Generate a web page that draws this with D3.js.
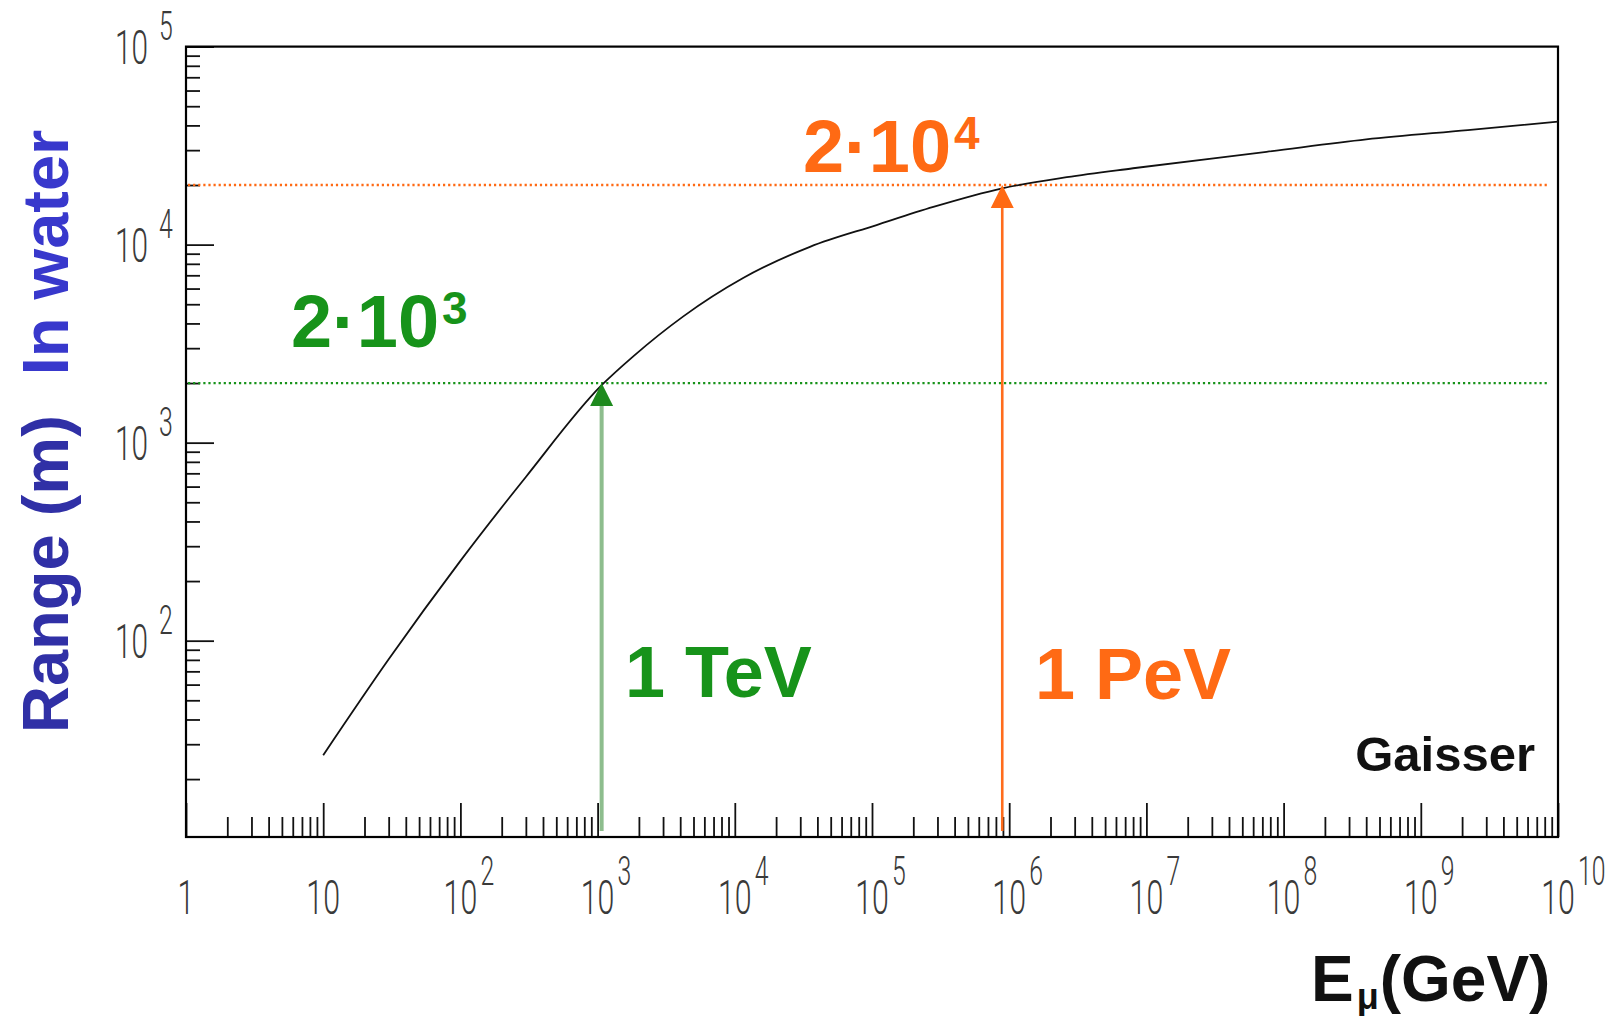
<!DOCTYPE html>
<html>
<head>
<meta charset="utf-8">
<script src="https://cdn.jsdelivr.net/npm/d3@7"></script>
<style>
    body { margin: 0; background: #fff; }
    svg { display: block; }
    .num { font-family: Roboto, "DejaVu Sans", sans-serif; font-weight: 300; fill: #3a3a3a; }
    .bold { font-family: "Liberation Sans", Arial, sans-serif; font-weight: 700; }
</style>
</head>
<body>
<div id="chart"></div>
<script>
    // Muon range in water (m) against muon energy (GeV).
const energyGeV = [10, 30, 100, 300, 1070, 1810, 4190, 11500, 35300, 1.08e5, 2.8e5, 8.9e5, 2.63e6, 8e6, 7.5e7, 4e8, 2.2e9, 1e10];
const rangeM = [26.4, 80.5, 253, 671, 1950, 2720, 4330, 6780, 9750, 12560, 15500, 19240, 21900, 24300, 29400, 34000, 37900, 41800];

    // Decade exponents used for the tick labels.
const xDecades = [0, 1, 2, 3, 4, 5, 6, 7, 8, 9, 10];
const yDecades = [2, 3, 4, 5];

    // The two marked energies and the range reached at each.
const markerNames = ["1 TeV", "1 PeV"];
const markerEnergy = [1070, 8.9e5];
const markerRange = [2000, 20000];
const markerRangeText = ["2·10", "2·10"];
const markerRangeExp = ["3", "4"];

function drawChart() {
    const width = 1619;
    const height = 1016;

    const svg = d3.select("#chart")
        .append("svg")
        .attr("width", width)
        .attr("height", height);

        // Log scales for both axes.
    const x = d3.scaleLog().domain([1, 1e10]).range([186, 1558]);
    const y = d3.scaleLog().domain([10.2, 1e5]).range([837, 46.6]);

    const [x0, x1] = x.range();
    const [yb, yt] = y.range();

        // Minor tick values 2..9 inside each decade.
    const minorX = [];
    for (let d = 0; d < 10; d++) for (let k = 2; k <= 9; k++) minorX.push(k * 10 ** d);
    const minorY = [];
    for (let d = 1; d < 5; d++) for (let k = 2; k <= 9; k++) if (k * 10 ** d > 10.2) minorY.push(k * 10 ** d);

    function tickAxis(axis, transform) {
        const g = svg.append("g")
            .attr("transform", transform)
            .call(axis);
        g.select(".domain").remove();
        g.selectAll("line").attr("stroke", "#111").attr("stroke-width", 1.8);
        g.selectAll("text").remove();
    }

        // x ticks stand up from the bottom edge.
    tickAxis(d3.axisTop(x).tickValues(minorX).tickSize(20).tickFormat(""), `translate(0, ${yb})`);
    tickAxis(d3.axisTop(x).tickValues(xDecades.map(e => 10 ** e)).tickSize(34).tickFormat(""), `translate(0, ${yb})`);

        // y ticks point right from the left edge.
    tickAxis(d3.axisRight(y).tickValues(minorY).tickSize(14).tickFormat(""), `translate(${x0}, 0)`);
    tickAxis(d3.axisRight(y).tickValues(yDecades.map(e => 10 ** e)).tickSize(28).tickFormat(""), `translate(${x0}, 0)`);

        // Plot frame.
    svg.append("rect")
        .attr("x", x0)
        .attr("y", yt)
        .attr("width", x1 - x0)
        .attr("height", yb - yt)
        .attr("fill", "none")
        .attr("stroke", "#000")
        .attr("stroke-width", 2.2);

        // x tick labels: 1, 10, then 10 with a raised exponent.
    const xl = svg.selectAll(".xlab")
        .data(xDecades)
        .join("g")
        .attr("class", "xlab")
        .attr("transform", d => `translate(${x(10 ** d)}, 914)`);

    xl.append("text")
        .attr("class", "num")
        .attr("font-size", 49)
        .attr("text-anchor", "middle")
        .attr("transform", "scale(0.62,1)")
        .text(d => d === 0 ? "1" : "10");

    xl.filter(d => d > 1)
        .append("text")
        .attr("class", "num")
        .attr("font-size", 40)
        .attr("transform", "translate(20,-29) scale(0.62,1)")
        .text(d => d);

        // y tick labels.
    const yl = svg.selectAll(".ylab")
        .data(yDecades)
        .join("g")
        .attr("class", "ylab")
        .attr("transform", d => `translate(148, ${y(10 ** d) + 17})`);

    yl.append("text")
        .attr("class", "num")
        .attr("font-size", 48)
        .attr("text-anchor", "end")
        .attr("transform", "scale(0.62,1)")
        .text("10");

    yl.append("text")
        .attr("class", "num")
        .attr("font-size", 40)
        .attr("transform", "translate(11,-24) scale(0.62,1)")
        .text(d => d);

        // Dotted reference lines at the two ranges.
    const colors = ["#17931a", "#ff6a14"];

    svg.selectAll(".ref")
        .data(markerRange)
        .join("line")
        .attr("class", "ref")
        .attr("x1", x0 + 2)
        .attr("x2", x1 - 10)
        .attr("y1", d => y(d))
        .attr("y2", d => y(d))
        .attr("stroke", (d, i) => colors[i])
        .attr("stroke-width", 2.3)
        .attr("stroke-dasharray", "2.2,2.9");

        // Range curve.
    const line = d3.line()
        .x(d => x(d[0]))
        .y(d => y(d[1]))
        .curve(d3.curveMonotoneX);

    svg.append("path")
        .attr("d", line(energyGeV.map((e, i) => [e, rangeM[i]])))
        .attr("fill", "none")
        .attr("stroke", "#111")
        .attr("stroke-width", 1.8);

        // Arrows from the energy axis up to the curve.
    const stemColors = ["#8dbd8d", "#ff6c1c"];
    const stemWidths = [4, 2.6];
    const headColors = ["#1e8a1e", "#ff6a14"];

    svg.selectAll(".stem")
        .data(markerEnergy)
        .join("line")
        .attr("class", "stem")
        .attr("x1", d => x(d))
        .attr("x2", d => x(d))
        .attr("y1", yb - 6)
        .attr("y2", (d, i) => y(markerRange[i]) + 20)
        .attr("stroke", (d, i) => stemColors[i])
        .attr("stroke-width", (d, i) => stemWidths[i]);

    svg.selectAll(".head")
        .data(markerEnergy)
        .join("path")
        .attr("class", "head")
        .attr("d", (d, i) => {
            const tx = x(d), ty = y(markerRange[i]);
            return `M${tx},${ty} L${tx - 11.5},${ty + 23} L${tx + 11.5},${ty + 23} Z`;
        })
        .attr("fill", (d, i) => headColors[i]);

        // Range labels near the dotted lines.
    const rangeLabelAt = [[5.82, 3040], [31400, 23300]];
    svg.selectAll(".rlab")
        .data(markerRangeText)
        .join("text")
        .attr("class", "rlab bold")
        .attr("x", (d, i) => x(rangeLabelAt[i][0]))
        .attr("y", (d, i) => y(rangeLabelAt[i][1]))
        .attr("font-size", 74)
        .attr("fill", (d, i) => colors[i])
        .each(function(d, i) {
            const t = d3.select(this);
            t.append("tspan").text(d);
            t.append("tspan")
                .attr("dx", 3)
                .attr("dy", -23)
                .attr("font-size", 46)
                .text(markerRangeExp[i]);
        });

        // Energy labels beside the arrows.
    const energyLabelAt = [[1585, 52], [1.54e6, 50.7]];
    svg.selectAll(".elab")
        .data(markerNames)
        .join("text")
        .attr("class", "elab bold")
        .attr("x", (d, i) => x(energyLabelAt[i][0]))
        .attr("y", (d, i) => y(energyLabelAt[i][1]))
        .attr("font-size", 72)
        .attr("fill", (d, i) => colors[i])
        .text(d => d);

        // Source tag.
    svg.append("text")
        .attr("class", "bold")
        .attr("x", x(6.8e9))
        .attr("y", y(21.9))
        .attr("text-anchor", "end")
        .attr("font-size", 49)
        .attr("fill", "#111")
        .text("Gaisser");

        // x axis title with the mu subscript.
    const xt = svg.append("text")
        .attr("class", "bold")
        .attr("x", 1311)
        .attr("y", 1001)
        .attr("font-size", 64)
        .attr("fill", "#111");
    xt.append("tspan").text("E");
    xt.append("tspan").attr("font-size", 36).attr("dy", 8).attr("dx", 3).text("μ");
    xt.append("tspan").attr("dy", -8).attr("dx", 1).text("(GeV)");

        // y axis title, rotated.
    const yTitle = svg.append("text")
        .attr("class", "bold")
        .attr("transform", "translate(68, 733) rotate(-90)")
        .attr("font-size", 65);
    yTitle.append("tspan").attr("fill", "#3030a6").text("Range (m)");
    yTitle.append("tspan").attr("fill", "#3838cc").attr("dx", 40).text("In water");
}

drawChart();
</script>
</body>
</html>
